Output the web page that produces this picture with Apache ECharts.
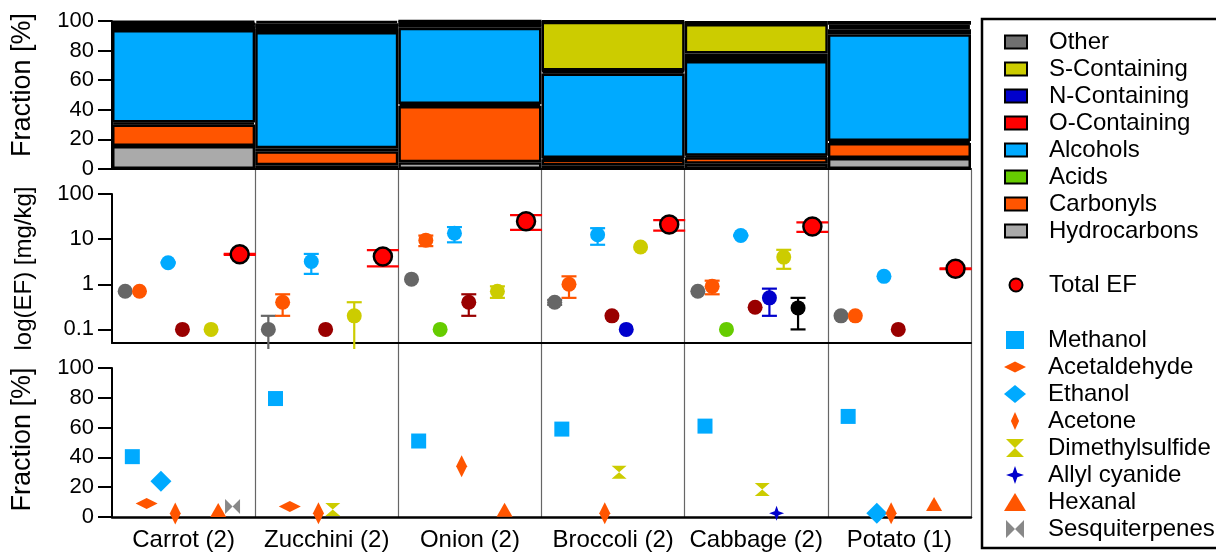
<!DOCTYPE html>
<html><head><meta charset="utf-8">
<script src="https://cdn.jsdelivr.net/npm/echarts@6/dist/echarts.min.js"></script>
<style>html,body{margin:0;padding:0;background:#fff}#c{width:1216px;height:554px}</style>
</head><body><div id="c"></div>
<script>
// ---------------- DATA ----------------
const categories = ['Carrot (2)', 'Zucchini (2)', 'Onion (2)', 'Broccoli (2)', 'Cabbage (2)', 'Potato (1)'];
const groupNames = ['Hydrocarbons', 'Carbonyls', 'Acids', 'Alcohols', 'O-Containing', 'N-Containing', 'S-Containing', 'Other'];

// top panel: fraction [%] per compound class (stacked bottom -> top)
const fracHydrocarbons = [15.5, 2.5, 4.5, 2.5, 3.5, 7.5];
const fracCarbonyls    = [14.5, 9.5, 38, 4, 4.5, 10];
const fracAcids        = [1.5, 2, 1.5, 1, 1, 1.5];
const fracAlcohols     = [62.5, 78.5, 51.5, 57, 64, 72];
const fracOContaining  = [2.5, 2.5, 1.8, 1.5, 2, 3.5];
const fracNContaining  = [0.5, 0.5, 0.2, 0.5, 3, 1.5];
const fracSContaining  = [2, 3, 2.5, 33, 20, 1.5];
const fracOther        = [1, 1.5, 0, 0.5, 2, 2.5];

// middle panel: emission factor [mg/kg] and its error
const efHydrocarbons = [0.7, 0.1, 1.3, 0.4, 0.7, 0.2];
const errHydrocarbons = [0, 0.1, 0, 0.05, 0, 0];
const efCarbonyls = [0.7, 0.4, 9.5, 1.0, 0.9, 0.2];
const errCarbonyls = [0, 0.2, 2.5, 0.5, 0.3, 0];
const efAcids = [null, null, 0.1, null, 0.1, null];
const errAcids = [0, 0, 0, 0, 0, 0];
const efAlcohols = [3.0, 3.2, 13.5, 12.5, 12, 1.5];
const errAlcohols = [0.1, 1.5, 5, 5, 0.3, 0];
const efOContaining = [0.1, 0.1, 0.4, 0.2, 0.31, 0.1];
const errOContaining = [0, 0, 0.2, 0, 0, 0];
const efNContaining = [null, null, null, 0.1, 0.5, null];
const errNContaining = [0, 0, 0, 0, 0.3, 0];
const efSContaining = [0.1, 0.2, 0.7, 6.7, 4.0, null];
const errSContaining = [0, 0.2, 0.2, 0, 1.8, 0];
const efOther = [null, null, null, null, 0.3, null];
const errOther = [0, 0, 0, 0, 0.2, 0];
const efTotal = [4.6, 4.1, 25, 21, 19, 2.2];
const errTotal = [0.1, 1.6, 9, 5.5, 4.5, 0.05];

// bottom panel: fraction [%] of individual compounds
const methanol        = [40.5, 79.5, 51, 59, 61, 67.5];
const acetaldehyde    = [9, 7, null, null, null, null];
const ethanol         = [24, null, null, null, null, 2.5];
const acetone         = [2.3, 2.5, 34, 2.5, null, 2.5];
const dimethylsulfide = [null, 5, null, 30, 18.5, null];
const allylCyanide    = [null, null, null, null, 2.5, null];
const hexanal         = [4.7, null, 4.9, null, null, 8.7];
const sesquiterpenes  = [7, null, null, null, null, null];
const tickLabelsLog = [0.1, 1, 10, 100];

// ---------------- STYLES ----------------
const FONT = "'Liberation Sans', Arial, Helvetica, sans-serif";
const barColors = ['#AAAAAA', '#FF5500', '#66CC00', '#00AAFF', '#FF0000', '#0000CC', '#CCCC00', '#707070'];
const efColors = ['#666666', '#FF5500', '#66CC00', '#00AAFF', '#990000', '#0000CC', '#CCCC00', '#000000', '#FF0000'];

const SQUARE = 'path://M0,0L10,0L10,10L0,10Z';
const HDIAMOND = 'path://M0,5L10,0L20,5L10,10Z';
const VDIAMOND = 'path://M5,0L10,11L5,22L0,11Z';
const HOURGLASS = 'path://M0,0L10,0L5,5L10,10L0,10L5,5Z';
const BOWTIE = 'path://M0,0L5,5L0,10Z M10,0L5,5L10,10Z';
const STAR4 = 'path://M5,0L6.3,3.7L10,5L6.3,6.3L5,10L3.7,6.3L0,5L3.7,3.7Z';

const fracArrays = [fracHydrocarbons, fracCarbonyls, fracAcids, fracAlcohols, fracOContaining, fracNContaining, fracSContaining, fracOther];
const efArrays = [efHydrocarbons, efCarbonyls, efAcids, efAlcohols, efOContaining, efNContaining, efSContaining, efOther, efTotal];
const errArrays = [errHydrocarbons, errCarbonyls, errAcids, errAlcohols, errOContaining, errNContaining, errSContaining, errOther, errTotal];

const compounds = [
  {name: 'Methanol', data: methanol, symbol: SQUARE, size: 15, color: '#00AAFF'},
  {name: 'Acetaldehyde', data: acetaldehyde, symbol: HDIAMOND, size: [22, 11], color: '#FF5500'},
  {name: 'Ethanol', data: ethanol, symbol: 'diamond', size: 21, color: '#00AAFF'},
  {name: 'Acetone', data: acetone, symbol: VDIAMOND, size: [11, 22], color: '#FF5500'},
  {name: 'Dimethylsulfide', data: dimethylsulfide, symbol: HOURGLASS, size: [15, 13], color: '#CCCC00'},
  {name: 'Allyl cyanide', data: allylCyanide, symbol: STAR4, size: 15, color: '#0000CC'},
  {name: 'Hexanal', data: hexanal, symbol: 'triangle', size: [16, 14], color: '#FF5500'},
  {name: 'Sesquiterpenes', data: sesquiterpenes, symbol: BOWTIE, size: [15, 15], color: '#888888'}
];

// ---------------- SERIES ----------------
const series = [];
groupNames.forEach((g, k) => {
  series.push({
    type: 'bar', name: g, stack: 'frac', xAxisIndex: 0, yAxisIndex: 0,
    barWidth: '100%', data: fracArrays[k],
    itemStyle: {color: barColors[k], borderColor: '#000', borderWidth: 2.5},
    emphasis: {disabled: true}, animation: false
  });
});

// error bars (middle panel)
const errData = [];
efArrays.forEach((arr, k) => {
  arr.forEach((v, i) => {
    if (v != null && errArrays[k][i] > 0) errData.push([i + 0.092 + 0.1 * k, v, errArrays[k][i], k]);
  });
});
series.push({
  type: 'custom', name: 'err', xAxisIndex: 1, yAxisIndex: 1, clip: false, z: 3,
  data: errData, encode: {x: 0, y: 1}, animation: false,
  renderItem: function (params, api) {
    const x = api.value(0), v = api.value(1), e = api.value(2), g = api.value(3);
    const hw = g === 8 ? 16 : 7.5;
    const color = efColors[g];
    const top = api.coord([x, v + e]);
    let bot, botCap = true;
    if (v - e > 0.05) { bot = api.coord([x, v - e]); }
    else { bot = api.coord([x, 0.05]); bot[1] += 6; botCap = false; }
    const st = {stroke: color, lineWidth: 2.2};
    const ch = [
      {type: 'line', shape: {x1: top[0], y1: top[1], x2: bot[0], y2: bot[1]}, style: st},
      {type: 'line', shape: {x1: top[0] - hw, y1: top[1], x2: top[0] + hw, y2: top[1]}, style: st}
    ];
    if (botCap) ch.push({type: 'line', shape: {x1: bot[0] - hw, y1: bot[1], x2: bot[0] + hw, y2: bot[1]}, style: st});
    return {type: 'group', children: ch};
  }
});

efArrays.forEach((arr, k) => {
  const d = [];
  arr.forEach((v, i) => { if (v != null) d.push([i + 0.092 + 0.1 * k, v]); });
  const isTotal = k === 8;
  series.push({
    type: 'scatter', name: isTotal ? 'Total EF' : groupNames[k] + ' EF',
    xAxisIndex: 1, yAxisIndex: 1, data: d, symbol: 'circle',
    symbolSize: isTotal ? 18 : 15, z: 4,
    itemStyle: isTotal ? {color: '#FF0000', borderColor: '#000', borderWidth: 2.5, opacity: 1} : {color: efColors[k], opacity: 1},
    emphasis: {disabled: true}, animation: false
  });
});

compounds.forEach((c, k) => {
  const d = [];
  c.data.forEach((v, i) => { if (v != null) d.push([i + 0.142 + 0.1 * k, v]); });
  series.push({
    type: 'scatter', name: c.name, xAxisIndex: 3, yAxisIndex: 2, data: d,
    symbol: c.symbol, symbolSize: c.size, symbolKeepAspect: false,
    itemStyle: {color: c.color, opacity: 1}, emphasis: {disabled: true}, animation: false, z: 4
  });
});

// ---------------- OPTION ----------------
const axisLineStyle = {show: true, lineStyle: {color: '#000', width: 2}};
const yLabel = {color: '#000', fontSize: 22, fontFamily: FONT, margin: 18};
const yTick = {show: true, length: 14, lineStyle: {color: '#000', width: 2}};
const nameStyle = {color: '#000', fontSize: 24, fontFamily: FONT};
const fracNameTop = {color: '#000', fontSize: 27, fontFamily: FONT, padding: [0, 0, 0, 20]};
const fracNameBottom = {color: '#000', fontSize: 27, fontFamily: FONT, padding: [0, 0, 0, 6]};
const legendText = {color: '#000', fontSize: 24, fontFamily: FONT, lineHeight: 20, padding: [0, 0, 0, 17]};

const option = {
  animation: false,
  backgroundColor: '#fff',
  textStyle: {fontFamily: FONT},
  grid: [
    {left: 112, right: 245, top: 21, height: 148},
    {left: 112, right: 245, top: 194, height: 149},
    {left: 112, right: 245, top: 368, height: 149},
    {left: 112, right: 245, top: 170, height: 347}
  ],
  xAxis: [
    {type: 'category', gridIndex: 0, data: categories, axisLabel: {show: false}, axisTick: {show: false}, axisLine: axisLineStyle},
    {type: 'value', gridIndex: 1, min: 0, max: 6, axisLabel: {show: false}, axisTick: {show: false}, splitLine: {show: false}, axisLine: axisLineStyle},
    {type: 'category', gridIndex: 2, data: categories, axisTick: {show: false},
      axisLine: {show: true, lineStyle: {color: '#000', width: 2.5}},
      axisLabel: {color: '#000', fontSize: 24, fontFamily: FONT, margin: 11, interval: 0}},
    {type: 'value', gridIndex: 2, min: 0, max: 6, show: false},
    {type: 'value', gridIndex: 3, min: 0, max: 6, interval: 1, axisLine: {show: false}, axisTick: {show: false}, axisLabel: {show: false},
      splitLine: {show: true, showMinLine: false, showMaxLine: true, lineStyle: {color: '#666', width: 1.2}}}
  ],
  yAxis: [
    {type: 'value', gridIndex: 0, min: 0, max: 100, interval: 20, axisLine: axisLineStyle, axisTick: yTick, axisLabel: yLabel,
      splitLine: {show: false}, name: 'Fraction [%]', nameLocation: 'middle', nameGap: 76, nameTextStyle: fracNameTop},
    {type: 'log', logBase: 10, gridIndex: 1, min: 0.05, max: 100, axisLine: axisLineStyle,
      axisTick: Object.assign({customValues: tickLabelsLog}, yTick),
      axisLabel: Object.assign({customValues: tickLabelsLog, formatter: v => (v < 1 ? (+v).toPrecision(1) : String(Math.round(v)))}, yLabel),
      splitLine: {show: false}, name: 'log(EF) [mg/kg]', nameLocation: 'middle', nameGap: 76, nameTextStyle: nameStyle},
    {type: 'value', gridIndex: 2, min: 0, max: 100, interval: 20, axisLine: axisLineStyle, axisTick: yTick, axisLabel: yLabel,
      splitLine: {show: false}, name: 'Fraction [%]', nameLocation: 'middle', nameGap: 76, nameTextStyle: fracNameBottom},
    {type: 'value', gridIndex: 3, min: 0, max: 1, show: false}
  ],
  legend: [
    {data: groupNames.slice().reverse(), orient: 'vertical', left: 1004, top: 30, padding: 0, itemGap: 3,
      itemWidth: 22, itemHeight: 13, icon: 'rect', selectedMode: false,
      itemStyle: {borderColor: '#000', borderWidth: 2}, textStyle: legendText},
    {data: ['Total EF'], orient: 'vertical', left: 1008.5, top: 273, padding: 0, itemWidth: 22, itemHeight: 13,
      selectedMode: false, itemStyle: {borderColor: '#000', borderWidth: 2}, textStyle: legendText},
    {data: compounds.map(c => c.name), orient: 'vertical', left: 1004, top: 328, height: 226, padding: 0, itemGap: 3,
      itemWidth: 22, itemHeight: 18, selectedMode: false, itemStyle: {borderWidth: 0}, textStyle: legendText}
  ],
  graphic: [
    {type: 'rect', shape: {x: 982, y: 19, width: 270, height: 529}, style: {fill: 'none', stroke: '#000', lineWidth: 2.5}, z: 10}
  ],
  series: series
};

const chart = echarts.init(document.getElementById('c'), null, {renderer: 'canvas'});
chart.setOption(option);
</script>
</body></html>
